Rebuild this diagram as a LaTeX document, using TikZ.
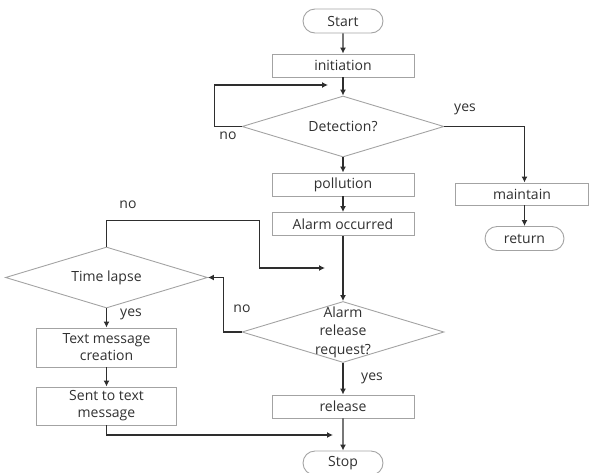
\documentclass[tikz,border=0pt]{standalone}
\usepackage{fontspec}
\setmainfont{Open Sans}
\usetikzlibrary{shapes.geometric,shapes.misc,arrows.meta}
\definecolor{framegray}{HTML}{A3A3A3}
\definecolor{flowline}{HTML}{2E2E2E}
\definecolor{labeltext}{HTML}{303030}
\begin{document}
\begin{tikzpicture}[x=1pt,y=1pt,
  every node/.style={text=labeltext,font=\fontsize{14}{17}\selectfont},
  terminal/.style={rounded rectangle,draw=framegray,line width=0.9pt,minimum width=80pt,minimum height=24pt,inner sep=0pt},
  process/.style={rectangle,draw=framegray,line width=0.9pt,minimum width=142pt,minimum height=23pt,inner sep=0pt,align=center},
  decision/.style={diamond,aspect=3.3,draw=framegray,line width=0.9pt,minimum width=202pt,minimum height=61pt,inner sep=0pt},
  flow/.style={draw=flowline,line width=1.2pt,-{Latex[length=6pt,width=6pt]}},
  branch/.style={inner sep=0pt}]
\useasboundingbox (0,0) rectangle (591,-472);
% main column
\node[terminal] (start) at (343,-21) {Start};
\node[process] (init) at (343,-65.5) {initiation};
\node[decision] (detect) at (343,-126.5) {Detection?};
\node[process] (pollution) at (343,-184.5) {pollution};
\node[process] (alarm) at (343,-224) {Alarm occurred};
\node[decision] (releaseq) at (343,-332) {};
\node[align=center,font=\fontsize{14}{18.5}\selectfont] (releaseqtext) at (releaseq) {Alarm\\release\\request?};
\node[process] (release) at (343,-406.5) {release};
\node[terminal] (stop) at (343,-463) {Stop};
% right branch
\node[process,minimum width=133pt,minimum height=22pt] (maintain) at (522,-194) {maintain};
\node[terminal,minimum width=79pt] (return) at (524.5,-238.5) {return};
% left branch
\node[decision] (timelapse) at (106.5,-277.5) {Time lapse};
\node[process,minimum width=140pt,minimum height=39pt] (textmsg) at (106.5,-347.5) {Text message\\creation};
\node[process,minimum width=140pt,minimum height=38pt] (sentmsg) at (106.5,-406) {Sent to text\\message};
% free ends
\coordinate (detectloop) at (328,-85);
\coordinate (timeloop) at (325,-268);
\coordinate (sentloop) at (333,-435);
% connectors
\draw[flow] (start) -- (init);
\draw[flow] (init) -- (detect);
\draw[flow] (detect.west) -- ++(-27,0) |- (detectloop);
\draw[flow] (detect.east) -| (return.north |- maintain.north);
\draw[flow] (maintain.south -| return) -- (return.north);
\draw[flow] (detect) -- (pollution);
\draw[flow] (pollution) -- (alarm);
\draw[flow] (alarm) -- (releaseq);
\draw[flow] (releaseq.west) -- ++(-18,0) |- (timelapse.east);
\draw[flow] (releaseq) -- (release);
\draw[flow] (release) -- (stop);
\draw[flow] (timelapse.north) -- ++(0,26) -- ++(153,0) |- (timeloop);
\draw[flow] (timelapse) -- (textmsg);
\draw[flow] (textmsg) -- (sentmsg);
\draw[flow] (sentmsg.south) |- (sentloop);
% branch labels
\node[branch] (detectno) at (228,-136) {no};
\node[branch] (detectyes) at (465,-109) {yes};
\node[branch] (timeno) at (128,-205) {no};
\node[branch] (releaseno) at (242,-309) {no};
\node[branch] (timeyes) at (131,-314) {yes};
\node[branch] (releaseyes) at (372,-378) {yes};
\end{tikzpicture}
\end{document}
